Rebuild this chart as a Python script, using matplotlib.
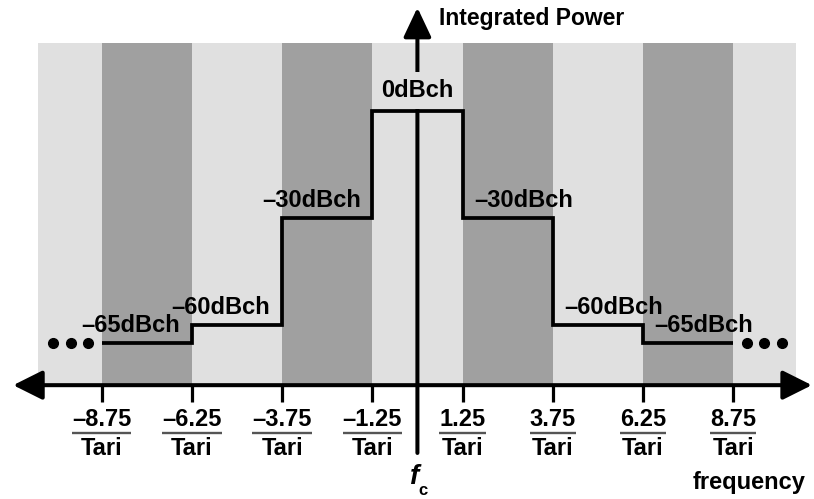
import matplotlib.pyplot as plt
import numpy as np

plt.rcParams['font.family'] = ['Liberation Sans', 'DejaVu Sans']
plt.rcParams['font.weight'] = 'bold'

# channel edges (in 1/Tari) and integrated power of each channel (dBch)
edges = [-8.75, -6.25, -3.75, -1.25, 1.25, 3.75, 6.25, 8.75]
levels = [-65, -60, -30, 0, -30, -60, -65]
level_labels = ['\u201365dBch', '\u201360dBch', '\u201330dBch', '0dBch',
                '\u201330dBch', '\u201360dBch', '\u201365dBch']
tick_labels = ['\u20138.75', '\u20136.25', '\u20133.75', '\u20131.25',
               '1.25', '3.75', '6.25', '8.75']
dots_x = [-10.1, -9.61, -9.12, 9.12, 9.61, 10.1]

band_edges = [-10.5] + edges + [10.5]
band_top = 19.1
axis_y = -76.8
axis_left, axis_right = -11.2, 10.93
vert_bottom, vert_top = -95.8, 29.0

light = '#e0e0e0'
dark = '#a0a0a0'

fig = plt.figure(figsize=(8.14, 4.99), dpi=100)
ax = fig.add_axes([0, 0, 1, 1])
ax.set_xlim(-11.566, 10.989)
ax.set_ylim(-108.7, 31.14)
ax.axis('off')

# alternating channel bands
lefts = np.array(band_edges[:-1])
widths = np.diff(band_edges)
cols = [light if i % 2 == 0 else dark for i in range(len(widths))]
ax.bar(lefts, band_top - axis_y, width=widths, bottom=axis_y, align='edge',
       color=cols, linewidth=0, zorder=0)

# spectrum mask
ax.stairs(levels, edges, baseline=None, color='black', lw=2.7, zorder=3)
ax.plot(dots_x, [levels[0]] * len(dots_x), 'o', ms=7, color='black', zorder=3)

# frequency axis and ticks
ax.annotate('', xy=(axis_left, axis_y), xytext=(axis_right, axis_y),
            arrowprops=dict(arrowstyle='<|-|>,head_length=1.8,head_width=0.9',
                            mutation_scale=10, lw=2.9, color='black',
                            shrinkA=0, shrinkB=0), zorder=4)
ax.vlines(edges, axis_y - 4.7, axis_y, color='black', lw=2.3, zorder=4)

# power axis
ax.annotate('', xy=(0, vert_top), xytext=(0, vert_bottom),
            arrowprops=dict(arrowstyle='-|>,head_length=1.8,head_width=0.85',
                            mutation_scale=10, lw=2.9, color='black',
                            shrinkA=0, shrinkB=0), zorder=2)
ax.annotate('Integrated Power', xy=(0, vert_top), xytext=(22, -11),
            textcoords='offset pixels', ha='left', va='center', fontsize=16.5)

# level labels
for i, lab in enumerate(level_labels):
    xc = (edges[i] + edges[i + 1]) / 2
    if xc < 0:
        dx = -16
    elif xc > 0:
        dx = 16
    else:
        dx = 0
    if levels[i] == 0:
        ax.annotate(lab, xy=(xc, levels[i]), xytext=(dx, 14),
                    textcoords='offset pixels', ha='center', va='baseline',
                    fontsize=17, zorder=5,
                    bbox=dict(boxstyle='square,pad=0.3', fc=light, ec='none'))
    else:
        ax.annotate(lab, xy=(xc, levels[i]), xytext=(dx, 11),
                    textcoords='offset pixels', ha='center', va='baseline',
                    fontsize=17, zorder=5)

# tick labels as fractions over Tari
nums = []
for e, lab in zip(edges, tick_labels):
    t = ax.annotate(lab, xy=(e, axis_y), xytext=(0, -34),
                    textcoords='offset pixels', ha='center', va='center',
                    fontsize=17)
    nums.append(t)
    ax.annotate('Tari', xy=(e, axis_y), xytext=(0, -63),
                textcoords='offset pixels', ha='center', va='center',
                fontsize=17)

fig.canvas.draw()
inv = ax.transData.inverted()
bar_disp_y = ax.transData.transform((0, axis_y))[1] - 48
for t in nums:
    bb = t.get_window_extent()
    (x0, yb), (x1, _) = inv.transform([(bb.x0, bar_disp_y), (bb.x1, bar_disp_y)])
    ax.plot([x0, x1], [yb, yb], color='#555555', lw=1.7, solid_capstyle='butt')

ax.annotate('f', xy=(0, axis_y), xytext=(-3, -92), textcoords='offset pixels',
            ha='center', va='center', fontsize=20, style='italic')
ax.annotate('c', xy=(0, axis_y), xytext=(6, -105), textcoords='offset pixels',
            ha='center', va='center', fontsize=12)
ax.annotate('frequency', xy=(band_edges[-1], axis_y), xytext=(9, -97),
            textcoords='offset pixels', ha='right', va='center', fontsize=17)

fig.savefig('out.png', dpi=100)
